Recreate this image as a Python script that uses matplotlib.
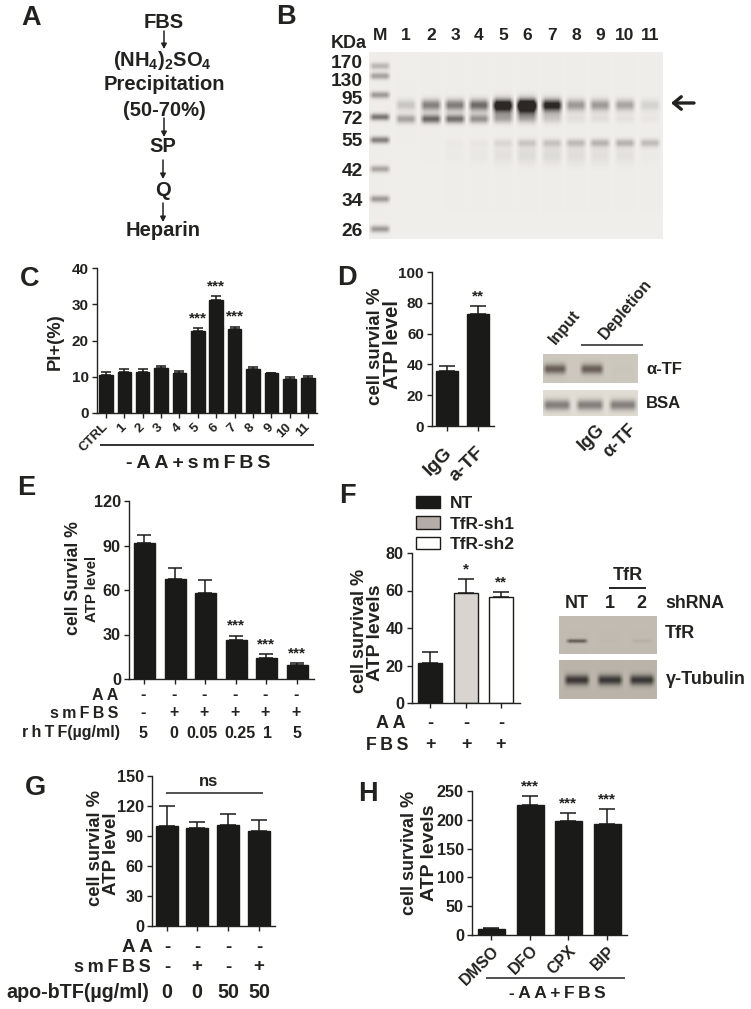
import numpy as np
import matplotlib
matplotlib.use("Agg")
import matplotlib.pyplot as plt
from matplotlib.patches import Rectangle
from matplotlib.transforms import ScaledTranslation

W, H = 751, 1009
plt.rcParams['font.family'] = ['Liberation Sans', 'DejaVu Sans']
plt.rcParams['font.weight'] = 'bold'
plt.rcParams['mathtext.default'] = 'regular'

BAR = '#1a1a18'
INK = '#222220'

# bar values
c_labels = ['CTRL', '1', '2', '3', '4', '5', '6', '7', '8', '9', '10', '11']
c_vals = [10.5, 11.3, 11.4, 12.3, 11.0, 22.6, 31.2, 23.2, 12.1, 10.9, 9.3, 9.7]
c_errs = [0.7, 0.9, 0.8, 0.8, 0.7, 0.8, 1.1, 0.6, 0.7, 0.1, 0.7, 0.6]
c_sig = ['', '', '', '', '', '***', '***', '***', '', '', '', '']

d_labels = ['IgG', 'a-TF']
d_vals = [36, 73]
d_errs = [3, 5]
d_sig = ['', '**']

e_vals = [92, 67.5, 58, 26, 14, 9.5]
e_errs = [5, 7, 9, 3.3, 3, 1]
e_sig = ['', '', '', '***', '***', '***']
e_aa = ['-', '-', '-', '-', '-', '-']
e_sm = ['-', '+', '+', '+', '+', '+']
e_rh = ['5', '0', '0.05', '0.25', '1', '5']

f_names = ['NT', 'TfR-sh1', 'TfR-sh2']
f_vals = [21.5, 58.5, 56.5]
f_errs = [5.8, 7.7, 2.5]
f_sig = ['', '*', '**']
f_aa = ['-', '-', '-']
f_fbs = ['+', '+', '+']

g_vals = [100, 98, 101, 95.5]
g_errs = [20.5, 6, 11.5, 10.5]
g_aa = ['-', '-', '-', '-']
g_sm = ['-', '+', '-', '+']
g_apo = ['0', '0', '50', '50']

h_labels = ['DMSO', 'DFO', 'CPX', 'BIP']
h_vals = [11, 226, 198, 193]
h_errs = [1, 15, 14, 26]
h_sig = ['', '***', '***', '***']

# gel band strengths, per lane
b_lanes = ['M', '1', '2', '3', '4', '5', '6', '7', '8', '9', '10', '11']
b_kda = ['170', '130', '95', '72', '55', '42', '34', '26']
b_marker = [0.28, 0.38, 0.42, 0.6, 0.55, 0.36, 0.42, 0.42]
b_upper = [0.2, 0.5, 0.52, 0.58, 0.9, 1.0, 0.85, 0.38, 0.38, 0.34, 0.12]
b_halo = [0.0, 0.06, 0.06, 0.1, 0.5, 0.75, 0.3, 0.06, 0.05, 0.03, 0.02]
b_lower = [0.38, 0.66, 0.62, 0.44, 0.22, 0.14, 0.1, 0.05, 0.06, 0.05, 0.03]
b_55 = [0.0, 0.0, 0.02, 0.03, 0.1, 0.18, 0.2, 0.24, 0.28, 0.28, 0.24]
b_smear = [0.0, 0.0, 0.02, 0.03, 0.06, 0.09, 0.09, 0.08, 0.07, 0.06, 0.02]
d_tf = [0.75, 0.75, 0.02]
d_bsa = [0.6, 0.6, 0.6]
f_tfr = [0.7, 0.02, 0.08]
f_tub = [0.9, 0.9, 0.9]

fig = plt.figure(figsize=(W / 100, H / 100), dpi=100)
over = fig.add_axes([0, 0, 1, 1], zorder=5)
over.set_xlim(0, W)
over.set_ylim(H, 0)
over.axis('off')
over.patch.set_alpha(0)


def txt(x, y, s, size=11, ha='center', va='center', rot=0, color=INK, **kw):
    return over.text(x, y, s, fontsize=size, ha=ha, va=va, rotation=rot, color=color,
                     rotation_mode='anchor', **kw)


def spaced(s):
    return '\u2009'.join(s)


def line(x0, x1, y0, y1=None, lw=1.1):
    over.plot([x0, x1], [y0, y0 if y1 is None else y1], color=INK, lw=lw, solid_capstyle='butt')


def arrow(x, y0, y1):
    over.annotate('', xy=(x, y1), xytext=(x, y0),
                  arrowprops=dict(arrowstyle='-|>,head_width=0.16,head_length=0.3', color=INK, lw=1.1,
                                  shrinkA=0, shrinkB=0))


def bars(left, right, zero_y, top_y, ymax, yticks, centers, width, vals, errs, colors=BAR,
         fs=11.7, capw=4, sig=None, sig_fs=11):
    ax = fig.add_axes([left / W, 1 - zero_y / H, (right - left) / W, (zero_y - top_y) / H])
    ax.set_xlim(left, right)
    ax.set_ylim(0, ymax)
    ax.patch.set_alpha(0)
    ax.bar(centers, vals, width=width, color=colors, edgecolor=BAR, linewidth=1.0, zorder=2)
    ax.errorbar(centers, vals, yerr=[np.zeros(len(vals)), errs], fmt='none', ecolor=BAR,
                elinewidth=1.1, capsize=capw, capthick=1.1, zorder=1, clip_on=False)
    for s in ['top', 'right']:
        ax.spines[s].set_visible(False)
    for s in ['left', 'bottom']:
        ax.spines[s].set_linewidth(1.0)
        ax.spines[s].set_color(INK)
    ax.set_yticks(yticks)
    ax.set_xticks(centers)
    ax.set_xticklabels([])
    ax.tick_params(axis='both', length=3.8, width=1.0, color=INK, labelcolor=INK, pad=2)
    ax.tick_params(axis='y', labelsize=fs)
    if sig:
        top = np.array(vals) + np.array(errs)
        for xc, t, s in zip(centers, top, sig):
            if s:
                ax.annotate(s, (xc, t), xytext=(0, 2), textcoords='offset points', ha='center',
                            va='bottom', fontsize=sig_fs, color=INK, annotation_clip=False)
    return ax


def shift_labels(ax, dx_px):
    off = ScaledTranslation(dx_px / 100, 0, fig.dpi_scale_trans)
    for t in ax.get_xticklabels():
        t.set_transform(t.get_transform() + off)


def gel(x0, x1, y0, y1, bg, rows, sx=12.0, dark=(35, 32, 30)):
    # rows: (lane centres, band y, band thickness, strengths)
    px = np.arange(x0, x1) + 0.5
    py = np.arange(y0, y1) + 0.5
    xx, yy = np.meshgrid(px, py)
    d = np.zeros_like(xx)
    for lanes, by, sy, vals in rows:
        for lx, v in zip(lanes, vals):
            edge = np.clip((sx - np.abs(xx - lx)) / 5.0, 0, 1)
            d += v * edge * np.exp(-0.5 * ((yy - by) / sy) ** 2)
    d = np.clip(d, 0, 1)[..., None]
    img = (np.array(bg) * (1 - d) + np.array(dark) * d) / 255
    over.imshow(img, extent=(x0, x1, y1, y0), aspect='auto', interpolation='bicubic', zorder=1)


# A
txt(31, 18, 'A', 19.5)
txt(164, 22, 'FBS', 14.5)
arrow(164, 31, 49)
txt(162, 61, '(NH$_4$)$_2$SO$_4$', 14.5)
txt(164, 85, 'Precipitation', 14.5)
txt(164, 110, '(50-70%)', 14.5)
arrow(164, 118, 137)
txt(163, 147, 'SP', 14.5)
arrow(163, 160, 179)
txt(163, 190, 'Q', 14.5)
arrow(163, 203, 222)
txt(163, 231, 'Heparin', 14.5)

# B
txt(286, 17, 'B', 19.5)
lane_x = [406, 431, 455, 479, 503, 527, 552, 576, 600, 625, 650]
marker_y = [66, 76, 95, 117, 140, 169, 199, 229]
label_y = [63, 81, 99, 120, 142, 171, 201, 231]
gel(369, 663, 52, 239, (240, 238, 234), [
    (lane_x, 105, 3.8, b_upper),
    (lane_x, 109, 6.5, b_halo),
    (lane_x, 119, 3.0, b_lower),
    (lane_x, 143, 2.8, b_55),
    (lane_x, 155, 7, b_smear),
] + [([380], y, 2.4, [v]) for y, v in zip(marker_y, b_marker)], sx=11.5, dark=(45, 40, 38))
for x, s in zip([380] + lane_x, b_lanes):
    txt(x, 35, s, 12.5)
txt(367, 44, 'KDa', 13, ha='right')
for y, s in zip(label_y, b_kda):
    txt(363, y, s, 13.8, ha='right')
over.annotate('', xy=(671, 103), xytext=(694, 103),
              arrowprops=dict(arrowstyle='->,head_width=0.45,head_length=0.55', color=INK, lw=2.4,
                              shrinkA=0, shrinkB=0))

# C
txt(30, 279, 'C', 19.5)
c_x = [106 + 18.36 * i for i in range(12)]
ax = bars(97, 317, 413, 268, 40, [0, 10, 20, 30, 40], c_x, 13.4, c_vals, c_errs, fs=11, capw=3.5,
          sig=c_sig, sig_fs=11)
ax.set_xticklabels(c_labels, rotation=45, ha='right', rotation_mode='anchor', fontsize=9.5)
shift_labels(ax, -4)
txt(55, 342, 'PI+(%)', 13.2, rot=90)
line(100, 314, 445, lw=1.3)
txt(198, 464, spaced('-AA+smFBS'), 14)

# D
txt(347, 278, 'D', 19.5)
ax = bars(432, 494, 426, 272, 100, [0, 20, 40, 60, 80, 100], [447, 478], 21.5, d_vals, d_errs, fs=11,
          capw=5.5, sig=d_sig)
ax.set_xticklabels(d_labels, rotation=45, ha='right', rotation_mode='anchor', fontsize=14)
ax.tick_params(axis='x', pad=9)
shift_labels(ax, -3)
txt(375, 346, 'cell survial %', 13.4, rot=90)
txt(393, 345, 'ATP level', 14.5, rot=90)
gel(543, 638, 354, 383, (205, 200, 190), [([555, 592, 623], 369, 3.5, d_tf)], sx=13, dark=(70, 60, 55))
gel(543, 638, 390, 416, (226, 221, 212), [([557, 590, 623], 405, 3.8, d_bsa)], sx=15, dark=(70, 65, 65))
txt(552, 342, 'Input', 11.5, ha='left', rot=50)
txt(602, 337, 'Depletion', 11.5, ha='left', rot=50)
line(581, 643, 344.5)
txt(646, 370, 'α-TF', 12, ha='left')
txt(646, 404, 'BSA', 12, ha='left')
txt(602, 427, 'IgG', 13, ha='right', rot=45)
txt(634, 427, 'α-TF', 13, ha='right', rot=45)

# E
txt(26, 488, 'E', 19.5)
e_x = [144, 175, 205, 236, 266, 297]
e_rh_x = [143, 174, 202, 240, 267, 297]
bars(129, 314, 679, 501, 120, [0, 30, 60, 90, 120], e_x, 21, e_vals, e_errs, fs=11.7, capw=5, sig=e_sig)
txt(74, 578, 'cell Survial %', 12.7, rot=90)
txt(92, 589, 'ATP level', 10.8, rot=90)
txt(118, 695, spaced('AA'), 11.5, ha='right')
txt(118, 714, spaced('smFBS'), 11.5, ha='right')
txt(120, 733, spaced('rhTF') + '(µg/ml)', 11.5, ha='right')
for x, rx, a, s, r in zip(e_x, e_rh_x, e_aa, e_sm, e_rh):
    txt(x - 1, 694, a, 11.5)
    txt(x - 1, 713, s, 11.5)
    txt(rx, 733, r, 11.5)

# F
txt(347, 496, 'F', 19.5)
f_x = [430, 466, 501]
ax = bars(412, 520, 703, 553, 80, [0, 20, 40, 60, 80], f_x, 24, f_vals, f_errs,
          colors=[BAR, '#d9d4cf', '#ffffff'], capw=6, sig=f_sig)
swatches = [Rectangle((0, 0), 1, 1, fc=c, ec=BAR, lw=1.0) for c in [BAR, '#b5aca8', '#ffffff']]
ax.legend(swatches, f_names, loc='lower left',
          bbox_to_anchor=(416 / W, 1 - 552 / H), bbox_transform=fig.transFigure, frameon=False,
          fontsize=12.5, handlelength=1.4, handleheight=0.72, labelspacing=0.3, handletextpad=0.55,
          borderpad=0, borderaxespad=0, labelcolor=INK)
txt(359, 631, 'cell survival %', 13, rot=90)
txt(375, 633, 'ATP levels', 14, rot=90)
txt(406, 723, spaced('AA'), 13, ha='right')
txt(408, 745, spaced('FBS'), 12.8, ha='right')
for x, a, s in zip(f_x, f_aa, f_fbs):
    txt(x, 723, a, 13)
    txt(x, 745, s, 13)
txt(628, 575, 'TfR', 13)
line(609, 646, 588, lw=1.4)
txt(577, 603, 'NT', 13)
txt(610, 603, '1', 13)
txt(641, 603, '2', 13)
txt(665, 603, 'shRNA', 12.8, ha='left')
gel(559, 657, 616, 654, (193, 187, 177), [([577, 610, 642], 641, 1.4, f_tfr)], sx=12, dark=(60, 55, 50))
gel(559, 657, 660, 699, (186, 180, 170), [([577, 610, 642], 680, 3.6, f_tub)], sx=14, dark=(45, 42, 42))
txt(665, 634, 'TfR', 13, ha='left')
txt(666, 679, 'γ-Tubulin', 13, ha='left')

# G
txt(35, 788, 'G', 19.5)
g_x = [167, 197, 228, 259]
bars(152, 275, 926, 776, 150, [0, 30, 60, 90, 120, 150], g_x, 21.5, g_vals, g_errs, capw=5.5)
txt(95, 848, 'cell survial %', 13.2, rot=90)
txt(112, 854, 'ATP level', 13.5, rot=90)
line(166, 263, 793)
txt(208, 781, 'ns', 12)
txt(153, 947, spaced('AA'), 13.5, ha='right')
txt(151, 967, spaced('smFBS'), 13, ha='right')
txt(149, 992, 'apo-bTF(µg/ml)', 14.2, ha='right')
for x, a, s, p in zip(g_x, g_aa, g_sm, g_apo):
    txt(x, 947, a, 13.5)
    txt(x, 967, s, 13.5)
    txt(x, 992, p, 14.2)

# H
txt(368, 794, 'H', 19.5)
h_x = [491, 530, 568, 607]
ax = bars(472, 627, 935, 791, 250, [0, 50, 100, 150, 200, 250], h_x, 27, h_vals, h_errs, capw=6,
          sig=h_sig, sig_fs=11)
ax.set_xticklabels(h_labels, rotation=45, ha='right', rotation_mode='anchor', fontsize=11.5)
txt(409, 853, 'cell survival %', 13, rot=90)
txt(429, 853, 'ATP levels', 14, rot=90)
line(486, 625, 977.5)
txt(557, 993, spaced('-AA+FBS'), 12.5)

over.set_xlim(0, W)
over.set_ylim(H, 0)
fig.savefig('out.png', dpi=100, facecolor='white')
